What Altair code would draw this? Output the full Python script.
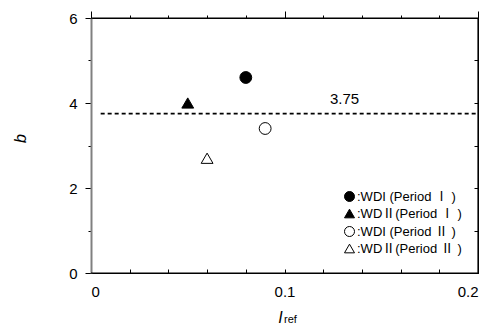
import altair as alt
import pandas as pd

# ---- data ----
series = [":WDI (Period Ⅰ )", ":WDⅡ(Period Ⅰ )", ":WDI (Period Ⅱ )", ":WDⅡ(Period Ⅱ )"]
x_vals = [0.08, 0.05, 0.09, 0.06]
y_vals = [4.6, 4.0, 3.4, 2.7]
shapes = ["circle", "triangle-up", "circle", "triangle-up"]
fills = ["black", "black", "white", "white"]
strokes = ["black", "black", "black", "black"]

ref_line_x = [0.005, 0.2]
ref_line_y = 3.75
ref_label = "3.75"
ref_label_x = 0.131

x_tick_values = [0.0, 0.02, 0.04, 0.06, 0.08, 0.1, 0.12, 0.14, 0.16, 0.18, 0.2]
x_label_values = [0.0, 0.1, 0.2]
y_tick_values = [0, 1, 2, 3, 4, 5, 6]

W, H = 387, 255
FONT = "Liberation Sans, Arial, Noto Sans CJK JP"

pts = pd.DataFrame({"series": series, "x": x_vals, "y": y_vals})

xscale = alt.Scale(domain=[0, 0.2], nice=False, zero=False)
yscale = alt.Scale(domain=[0, 6], nice=False, zero=False)

leg = alt.Legend(
    title=None, orient="none", legendX=252, legendY=172, symbolSize=100,
    symbolStrokeWidth=1, labelFont=FONT, labelFontSize=13,
    labelColor="black", labelOffset=1, rowPadding=3, padding=0)

MAJOR_X = "abs(datum.value * 10 - round(datum.value * 10)) < 1e-6"

points = alt.Chart(pts).mark_point(filled=True, strokeWidth=1, opacity=1).encode(
    x=alt.X("x:Q", scale=xscale, axis=alt.Axis(
        values=x_label_values, format=".1~f", ticks=False, domain=False, grid=False,
        labelFont=FONT, labelFontSize=15, labelColor="black", labelPadding=11,
        title="I", titleFont=FONT, titleFontSize=16, titleFontStyle="italic", titleFontWeight="normal",
        titleX=189, titleY=44, titleAlign="center", titleBaseline="middle", titleColor="black")),
    y=alt.Y("y:Q", scale=yscale, axis=alt.Axis(
        values=y_tick_values,
        labelExpr="datum.value % 2 == 0 ? datum.label : ''",
        tickSize={"condition": {"test": "datum.value % 2 == 0", "value": 6}, "value": 3},
        tickColor="black", tickWidth=1, grid=False,
        domainColor="#808080", domainWidth=2,
        labelFont=FONT, labelFontSize=15, labelColor="black", labelPadding=8,
        title="b", titleFont=FONT, titleFontSize=16, titleFontStyle="italic", titleFontWeight="normal",
        titleX=-71, titleY=120, titleAlign="center", titleBaseline="middle", titleColor="black")),
    shape=alt.Shape("series:N", scale=alt.Scale(domain=series, range=shapes), legend=leg),
    fill=alt.Fill("series:N", scale=alt.Scale(domain=series, range=fills), legend=leg),
    stroke=alt.Stroke("series:N", scale=alt.Scale(domain=series, range=strokes), legend=leg),
    size=alt.value(140),
)

# dashed reference line; carries the top and right frame axes
ref_df = pd.DataFrame({"x": [ref_line_x[0]], "x2": [ref_line_x[1]], "y": [ref_line_y]})
ref = alt.Chart(ref_df).mark_rule(color="black", strokeWidth=1.7, strokeDash=[4, 3]).encode(
    x=alt.X("x:Q", scale=xscale, axis=alt.Axis(
        orient="top", values=x_tick_values, labels=False, grid=False, title=None,
        domain=True, domainColor="black", domainWidth=1, tickColor="black", tickWidth=1,
        tickSize={"condition": {"test": MAJOR_X, "value": 7}, "value": 3})),
    x2="x2:Q",
    y=alt.Y("y:Q", scale=yscale, axis=alt.Axis(
        orient="right", values=y_tick_values, labels=False, grid=False, title=None,
        domain=True, domainColor="black", domainWidth=1, tickColor="black", tickWidth=1,
        tickSize={"expr": "-4"})))

# reference label; carries the bottom frame axis (inward ticks)
ref_txt_df = pd.DataFrame({"x": [ref_label_x], "y": [ref_line_y], "t": [ref_label]})
ref_txt = alt.Chart(ref_txt_df).mark_text(font=FONT, fontSize=15, color="black", dy=-15).encode(
    x=alt.X("x:Q", scale=xscale, axis=alt.Axis(
        orient="bottom", values=x_tick_values, labels=False, grid=False, title=None,
        domain=True, domainColor="black", domainWidth=1, tickColor="black", tickWidth=1,
        tickSize={"expr": "-4"})),
    y=alt.Y("y:Q", scale=yscale, axis=None),
    text="t:N")

# plot frame: horizontal edges (top, bottom) and vertical right edge,
# drawn with the same kind of rule as the reference line
h_edges = pd.DataFrame({"x": [0.0, 0.0], "x2": [0.2, 0.2], "y": [6.0, 0.0]})
v_edges = pd.DataFrame({"x": [0.2], "y": [0.0], "y2": [6.0]})
frame_h = alt.Chart(h_edges).mark_rule(color="black", strokeWidth=1.2, strokeDash=[10000, 1]).encode(
    x=alt.X("x:Q", scale=xscale, axis=None), x2="x2:Q",
    y=alt.Y("y:Q", scale=yscale, axis=None))
frame_v = alt.Chart(v_edges).mark_rule(color="black", strokeWidth=1.2, strokeDash=[10000, 1]).encode(
    x=alt.X("x:Q", scale=xscale, axis=None),
    y=alt.Y("y:Q", scale=yscale, axis=None), y2="y2:Q")

ref_sub = alt.Chart(pd.DataFrame({"t": ["ref"]})).mark_text(
    font=FONT, fontSize=11, color="black", align="left", baseline="middle").encode(
    x=alt.value(193), y=alt.value(H + 47), text="t:N")

chart = alt.layer(
    ref, ref_txt, points, ref_sub, frame_h, frame_v
).resolve_axis(x="independent", y="independent").properties(
    width=W, height=H,
    background="white",
    autosize=alt.AutoSizeParams(type="none"),
    padding={"left": 91, "top": 18, "right": 14, "bottom": 60},
).configure_view(stroke="black", strokeWidth=1)

chart.save("out.html", embed_options={"renderer": "svg", "actions": False})
